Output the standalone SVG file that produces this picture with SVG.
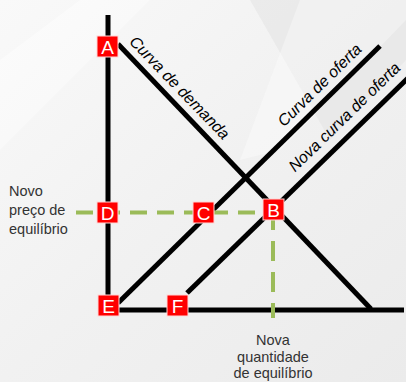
<svg xmlns="http://www.w3.org/2000/svg" width="406" height="382" viewBox="0 0 406 382">
<defs>
<linearGradient id="bg" x1="0" y1="0" x2="1" y2="1">
<stop offset="0" stop-color="#f9f9f9"/>
<stop offset="0.5" stop-color="#f1f1f1"/>
<stop offset="1" stop-color="#ebebeb"/>
</linearGradient>
</defs>
<style>
.ax{stroke:#000;stroke-width:5;fill:none}
.dash{stroke:#9bbb59;stroke-width:4;fill:none}
.box{fill:#ff0000;stroke:#ffd6d6;stroke-width:1}
.lbl{font-family:"Liberation Sans",Arial,sans-serif;font-size:19px;fill:#fff;text-anchor:middle}
.curve{font-family:"Liberation Sans",Arial,sans-serif;font-size:16px;font-style:italic;fill:#000}
.note{font-family:"Liberation Sans",Arial,sans-serif;font-size:14.5px;fill:#333}
</style>
<rect width="406" height="382" fill="url(#bg)"/>
<polygon points="250,0 406,0 406,60 330,140" fill="#e4e4e4" opacity="0.6"/>
<polygon points="300,0 406,0 406,20 280,150 240,160" fill="#ffffff" opacity="0.35"/>
<polygon points="0,60 80,0 150,0 0,150" fill="#ffffff" opacity="0.4"/>

<g id="connectors">
<line class="ax" x1="108" y1="15" x2="108" y2="310"/>
<line class="ax" x1="106" y1="310" x2="404" y2="310"/>
<line class="ax" x1="118" y1="44" x2="371" y2="309"/>
<line class="ax" x1="118" y1="303" x2="380" y2="46"/>
<line class="ax" x1="187" y1="293" x2="410" y2="76"/>
<line class="dash" x1="76" y1="212.5" x2="265" y2="212.5" stroke-dasharray="17 10"/>
<line class="dash" x1="273" y1="210" x2="273" y2="318" stroke-dasharray="20 11"/>
</g>

<g id="curve-labels">
<text class="curve" transform="translate(128.5,42.5) rotate(46)">Curva de demanda</text>
<text class="curve" transform="translate(284,127.5) rotate(-44.5)">Curva de oferta</text>
<text class="curve" transform="translate(295,172.5) rotate(-44.2)">Nova curva de oferta</text>
</g>

<g id="node-A"><rect class="box" x="97" y="36" width="21" height="21"/><text class="lbl" x="107.5" y="53.5">A</text></g>
<g id="node-D"><rect class="box" x="97" y="202" width="21" height="21"/><text class="lbl" x="107.5" y="219.5">D</text></g>
<g id="node-C"><rect class="box" x="193" y="202" width="21" height="21"/><text class="lbl" x="203.5" y="219.5">C</text></g>
<g id="node-B"><rect class="box" x="263" y="199" width="21" height="21"/><text class="lbl" x="273.5" y="216.5">B</text></g>
<g id="node-E"><rect class="box" x="98" y="295" width="21" height="21"/><text class="lbl" x="108.5" y="312.5">E</text></g>
<g id="node-F"><rect class="box" x="167" y="295" width="21" height="21"/><text class="lbl" x="177.5" y="312.5">F</text></g>

<g id="price-label">
<text class="note" x="9" y="196">Novo</text>
<text class="note" x="9" y="215">preço de</text>
<text class="note" x="9" y="234">equilíbrio</text>
</g>
<g id="quantity-label">
<text class="note" x="273" y="345" text-anchor="middle">Nova</text>
<text class="note" x="273" y="362" text-anchor="middle">quantidade</text>
<text class="note" x="273" y="378" text-anchor="middle">de equilíbrio</text>
</g>
</svg>
